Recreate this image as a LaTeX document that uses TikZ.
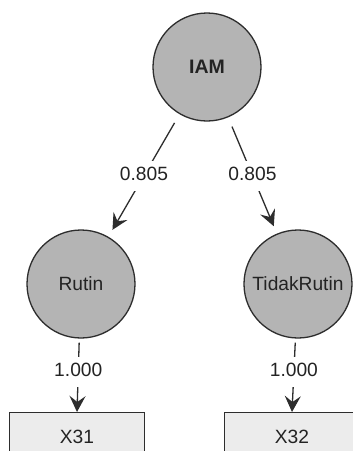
\documentclass[tikz,border=0pt]{standalone}
\usepackage{fontspec}
\setmainfont{Liberation Sans}
\usetikzlibrary{arrows.meta}
\definecolor{latfill}{RGB}{180,180,180}
\definecolor{boxfill}{RGB}{236,236,236}
\definecolor{linecol}{RGB}{45,45,45}
\definecolor{txtcol}{RGB}{35,35,35}
\begin{document}
\begin{tikzpicture}[x=1pt,y=-1pt,
  every node/.style={font=\fontsize{19.2}{22}\selectfont, text=txtcol},
  latent/.style={circle, draw=linecol, line width=1.3pt, fill=latfill, minimum size=108pt, inner sep=0pt},
  indicator/.style={rectangle, draw=linecol, line width=1.3pt, fill=boxfill, minimum width=135pt, minimum height=48pt, anchor=north, inner sep=0pt},
  path/.style={draw=linecol, line width=1.3pt, -{Stealth[length=16pt,width=16pt,inset=6pt]}},
  coef/.style={fill=white, inner xsep=2pt, inner ysep=6pt, text height=14pt, text depth=4pt, pos=0.5}
]
\useasboundingbox (0,0) rectangle (353,451);
\clip (0,0) rectangle (353,451);
\fill[white] (0,0) rectangle (353,451);
\node[latent, font=\fontsize{19.5}{22}\selectfont\bfseries] (iam) at (207,67) {IAM};
\node[latent] (rutin) at (81,284) {Rutin};
\node[latent] (tidak) at (298,284) {TidakRutin};
\node[indicator] (x31) at (77,412) {\raisebox{-5pt}{X31}};
\node[indicator] (x32) at (292,412) {\raisebox{-5pt}{X32}};
\draw[path, shorten <=10pt, shorten >=8pt] (iam) -- node[coef] {0.805} (rutin);
\draw[path, shorten <=10pt, shorten >=8pt] (iam) -- node[coef] {0.805} (tidak);
\draw[path, shorten <=4pt] (rutin) -- node[coef, pos=0.45] {1.000} (x31.north);
\draw[path, shorten <=4pt] (tidak) -- node[coef, pos=0.45] {1.000} (x32.north);
\end{tikzpicture}
\end{document}
